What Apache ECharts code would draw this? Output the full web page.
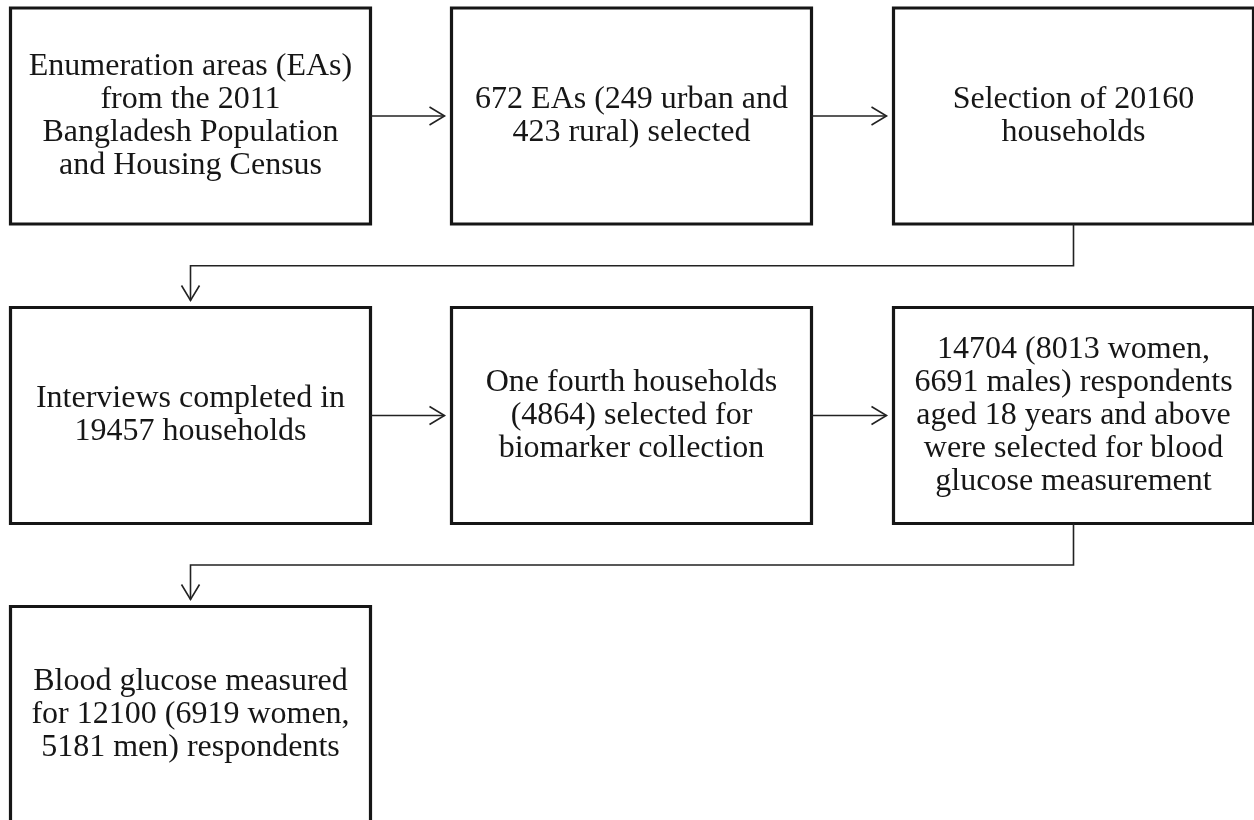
<!DOCTYPE html>
<html>
<head>
<meta charset="utf-8">
<title>Flow of sample selection</title>
<script src="https://cdn.jsdelivr.net/npm/echarts@6/dist/echarts.min.js"></script>
<style>
  html, body { margin: 0; padding: 0; background: #fff; }
  #flowChart { width: 1254px; height: 820px; }
</style>
</head>
<body>
<div id="flowChart"></div>
<script>
// steps of the flow
const stepText = [
  'Enumeration areas (EAs)\nfrom the 2011\nBangladesh Population\nand Housing Census',
  '672 EAs (249 urban and\n423 rural) selected',
  'Selection of 20160\nhouseholds',
  'Interviews completed in\n19457 households',
  'One fourth households\n(4864) selected for\nbiomarker collection',
  '14704 (8013 women,\n6691 males) respondents\naged 18 years and above\nwere selected for blood\nglucose measurement',
  'Blood glucose measured\nfor 12100 (6919 women,\n5181 men) respondents'
]
const stepRow = [0, 0, 0, 1, 1, 1, 2]
const stepCol = [0, 1, 2, 0, 1, 2, 0]
// arrows: [from, to]
const links = [[0, 1], [1, 2], [2, 3], [3, 4], [4, 5], [5, 6]]

// layout of the grid of boxes (pixel units on hidden axes)
const colCenter = [190.5, 631.5, 1073.5]
const rowCenter = [116, 415.5, 714.5]
const boxW = 360
const boxH = 216
const gap = 7

function boxRect(api, i) {
  let c = api.coord([colCenter[stepCol[i]], rowCenter[stepRow[i]]])
  let s = api.size([boxW, boxH])
  return { cx: c[0], cy: c[1], w: s[0], h: s[1] }
}

let chart = echarts.init(document.getElementById('flowChart'), null, { renderer: 'canvas' })

chart.setOption({
  backgroundColor: '#ffffff',
  animation: false,
  grid: { left: 0, right: 0, top: 0, bottom: 0 },
  xAxis: { type: 'value', min: 0, max: 1254, show: false },
  yAxis: { type: 'value', min: 0, max: 820, inverse: true, show: false },
  series: [
    {
      name: 'boxes',
      type: 'custom',
      coordinateSystem: 'cartesian2d',
      data: stepText.map((t, i) => [stepCol[i], stepRow[i]]),
      renderItem: function (params, api) {
        let b = boxRect(api, params.dataIndex)
        return {
          type: 'group',
          children: [
            {
              type: 'rect',
              shape: { x: b.cx - b.w / 2, y: b.cy - b.h / 2, width: b.w, height: b.h },
              style: { fill: '#ffffff', stroke: '#161616', lineWidth: 3.2 }
            },
            {
              type: 'text',
              x: b.cx,
              y: b.cy,
              style: {
                text: stepText[params.dataIndex],
                fill: '#161616',
                font: '32px "Liberation Serif", "Times New Roman", serif',
                lineHeight: 33,
                align: 'center',
                verticalAlign: 'middle',
                textAlign: 'center',
                textVerticalAlign: 'middle'
              }
            }
          ]
        }
      }
    },
    {
      name: 'arrows',
      type: 'custom',
      coordinateSystem: 'cartesian2d',
      data: links,
      renderItem: function (params, api) {
        let l = links[params.dataIndex]
        let a = boxRect(api, l[0])
        let b = boxRect(api, l[1])
        let pts, head
        if (stepRow[l[0]] === stepRow[l[1]]) {
          let x0 = a.cx + a.w / 2
          let x1 = b.cx - b.w / 2 - gap
          pts = [[x0, a.cy], [x1, a.cy]]
          head = [[x1 - 15, a.cy - 9], [x1, a.cy], [x1 - 15, a.cy + 9]]
        } else {
          let y0 = a.cy + a.h / 2
          let y1 = b.cy - b.h / 2 - gap
          let ym = (y0 + b.cy - b.h / 2) / 2
          pts = [[a.cx, y0], [a.cx, ym], [b.cx, ym], [b.cx, y1]]
          head = [[b.cx - 9, y1 - 15], [b.cx, y1], [b.cx + 9, y1 - 15]]
        }
        let st = { fill: 'none', stroke: '#222222', lineWidth: 1.6 }
        return {
          type: 'group',
          children: [
            { type: 'polyline', shape: { points: pts }, style: st },
            { type: 'polyline', shape: { points: head }, style: st }
          ]
        }
      }
    }
  ]
})
</script>
</body>
</html>
